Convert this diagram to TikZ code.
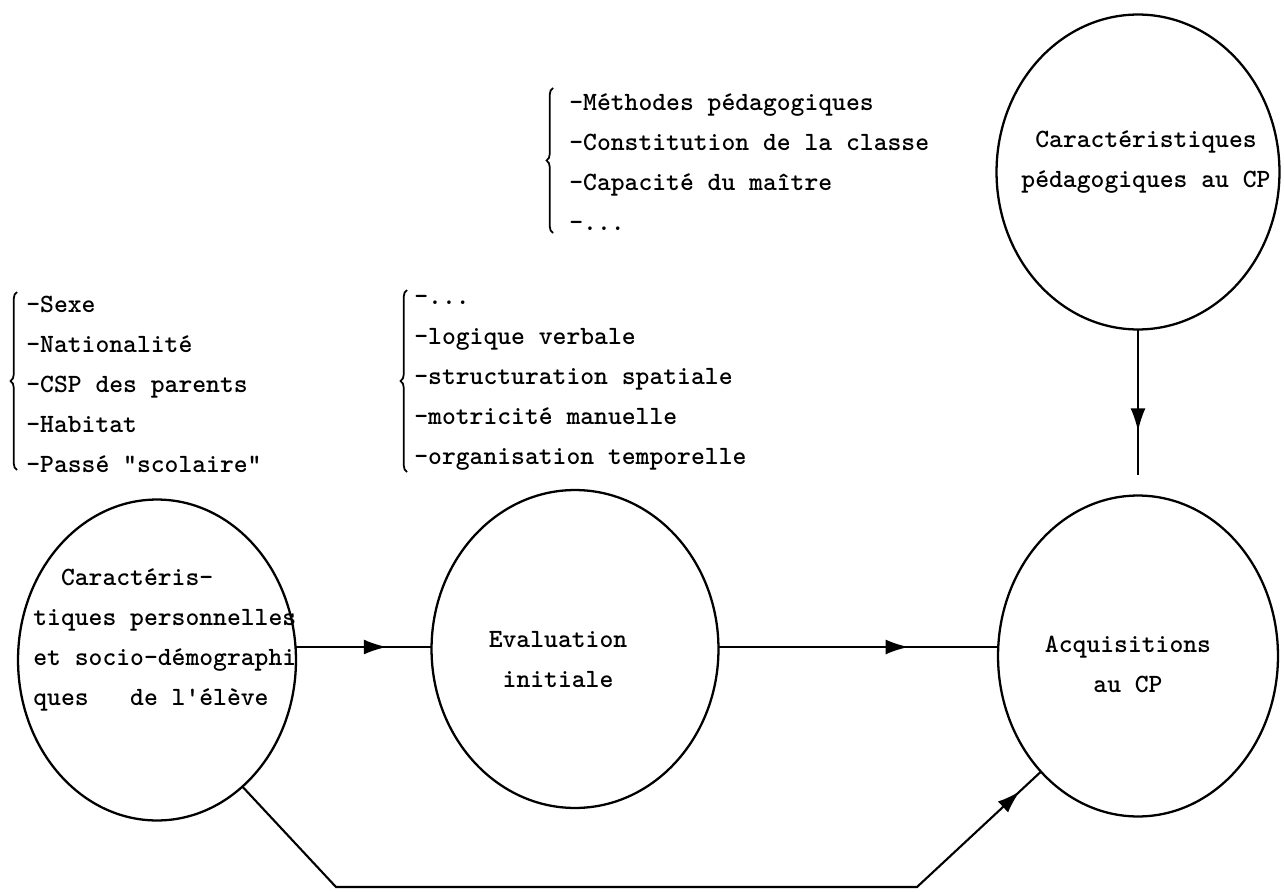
\documentclass[tikz,border=0pt]{standalone}
\usetikzlibrary{shapes.geometric,arrows.meta,decorations.markings,decorations.pathreplacing}
\tikzset{
  bulle/.style={ellipse,draw,line width=1.3pt,inner sep=0pt,outer sep=0pt},
  texte/.style={inner sep=0pt,font=\ttfamily\bfseries\fontsize{15}{22.76}\selectfont},
  liste/.style={texte,anchor=west,align=left},
  fleche/.style={line width=1.2pt,decoration={markings,mark=at position #1 with {\arrow{Latex[length=0.46cm,width=0.3cm]}}},postaction={decorate}},
  accolade/.style={line width=1pt,decorate,decoration={brace,amplitude=0.13cm}}
}
\begin{document}
\begin{tikzpicture}[x=0.02cm,y=-0.02cm]
\useasboundingbox (0,0) rectangle (1284,892);
% bulles
\node[bulle,minimum width=5.56cm,minimum height=6.42cm] (perso) at (157,660) {};
\node[bulle,minimum width=5.74cm,minimum height=6.36cm] (eval) at (575,649) {};
\node[bulle,minimum width=5.6cm,minimum height=6.42cm] (acq) at (1138,656) {};
\node[bulle,minimum width=5.66cm,minimum height=6.3cm] (peda) at (1138,172) {};
% textes des bulles
\node[liste] (persotxt) at (33,640) {~~Caractéris-\\tiques personnelles\\et socio-démographi\\ques~~~de l'élève};
\node[texte,align=center] (evaltxt) at (558,660) {Evaluation\\initiale};
\node[texte,align=center] (acqtxt) at (1128,664) {Acquisitions\\au CP};
\node[texte,align=center] (pedatxt) at (1146,162) {Caractéristiques\\pédagogiques au CP};
% listes
\node[liste] (eleve) at (26,384) {-Sexe\\-Nationalité\\-CSP des parents\\-Habitat\\-Passé "scolaire"};
\node[liste] (tests) at (414,383) {-...\\-logique verbale\\-structuration spatiale\\-motricité manuelle\\-organisation temporelle};
\node[liste] (classe) at (569,162) {-Méthodes pédagogiques\\-Constitution de la classe\\-Capacité du maître\\-...};
\draw[accolade] (17,470) -- (17,292);
\draw[accolade] (407,472) -- (407,290);
\draw[accolade] (553,233) -- (553,88);
% fleches
\coordinate (niveau) at (0,647);
\coordinate (bout) at (1138,475);
\coordinate (coinG) at (336,887);
\coordinate (coinD) at (917,887);
\draw[fleche=0.67] (perso.east |- niveau) -- (eval.west |- niveau);
\draw[fleche=0.68] (eval.east |- niveau) -- (acq.west |- niveau);
\draw[fleche=0.70] (peda.south) -- (bout);
\draw[fleche=0.968] (perso.-56) -- (coinG) -- (coinD) -- (acq.-130);
\end{tikzpicture}
\end{document}
